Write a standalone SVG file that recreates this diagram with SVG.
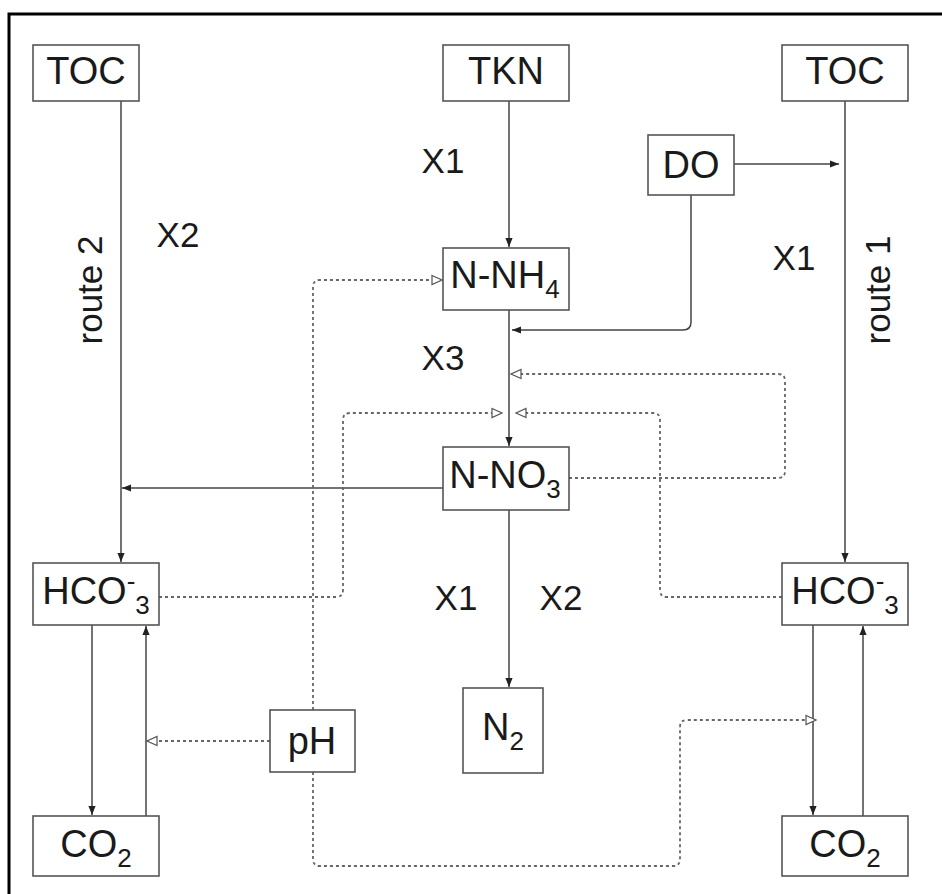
<svg xmlns="http://www.w3.org/2000/svg" width="942" height="894" viewBox="0 0 942 894">
<style>
.box{fill:#fff;stroke:#555;stroke-width:1.6}
.t{font-family:"Liberation Sans",Arial,sans-serif;font-size:38px;fill:#1a1a1a;text-anchor:middle}
.lb{font-size:35px}
.sub{font-size:26px}
.ln{fill:none;stroke:#444;stroke-width:1.5}
.dt{fill:none;stroke:#666;stroke-width:1.8;stroke-dasharray:3 3}
</style>
<defs>
<marker id="a" viewBox="0 0 10 10" refX="10" refY="5" markerWidth="9" markerHeight="9" markerUnits="userSpaceOnUse" orient="auto">
<path d="M0,1 L10,5 L0,9 z" fill="#222"/>
</marker>
<marker id="o" viewBox="0 0 12 12" refX="11" refY="6" markerWidth="12" markerHeight="12" markerUnits="userSpaceOnUse" orient="auto">
<path d="M1,1.5 L11,6 L1,10.5 z" fill="#fff" stroke="#555" stroke-width="1.2"/>
</marker>
</defs>
<rect width="942" height="894" fill="#fff"/>
<path d="M9,900 V14 H950" fill="none" stroke="#000" stroke-width="3"/>

<g id="connectors">
<path class="ln" d="M121,101 V562" marker-end="url(#a)"/>
<path class="ln" d="M509,101 V247" marker-end="url(#a)"/>
<path class="ln" d="M845,101 V562" marker-end="url(#a)"/>
<path class="ln" d="M734,164 H839" marker-end="url(#a)"/>
<path class="ln" d="M691,195 V322 Q691,330 683,330 H512" marker-end="url(#a)"/>
<path class="ln" d="M509,310 V446" marker-end="url(#a)"/>
<path class="ln" d="M443,488 H122" marker-end="url(#a)"/>
<path class="ln" d="M509,510 V687" marker-end="url(#a)"/>
<path class="ln" d="M92,625 V815" marker-end="url(#a)"/>
<path class="ln" d="M146,816 V626" marker-end="url(#a)"/>
<path class="ln" d="M813,625 V815" marker-end="url(#a)"/>
<path class="ln" d="M863,816 V626" marker-end="url(#a)"/>

<path class="dt" d="M313,710 V287 Q313,280 320,280 H442" marker-end="url(#o)"/>
<path class="dt" d="M313,772 V859 Q313,866 320,866 H673 Q680,866 680,859 V727 Q680,720 687,720 H816" marker-end="url(#o)"/>
<path class="dt" d="M270,741 H147" marker-end="url(#o)"/>
<path class="dt" d="M159,597 H336 Q343,597 343,590 V420 Q343,413 350,413 H502" marker-end="url(#o)"/>
<path class="dt" d="M782,597 H667 Q660,597 660,590 V420 Q660,413 653,413 H516" marker-end="url(#o)"/>
<path class="dt" d="M569,478 H778 Q785,478 785,471 V381 Q785,374 778,374 H511" marker-end="url(#o)"/>
</g>

<g id="TOC_left"><rect class="box" x="33" y="45" width="106" height="56"/><text class="t" x="86" y="84">TOC</text></g>
<g id="TKN"><rect class="box" x="443" y="45" width="126" height="56"/><text class="t" x="506" y="84">TKN</text></g>
<g id="TOC_right"><rect class="box" x="782" y="45" width="126" height="56"/><text class="t" x="845" y="84">TOC</text></g>
<g id="DO"><rect class="box" x="648" y="135" width="86" height="60"/><text class="t" x="691" y="178">DO</text></g>
<g id="N_NH4"><rect class="box" x="443" y="248" width="126" height="62"/><text class="t" x="505" y="288">N-NH<tspan class="sub" dy="10">4</tspan></text></g>
<g id="N_NO3"><rect class="box" x="443" y="447" width="126" height="63"/><text class="t" x="505" y="488">N-NO<tspan class="sub" dy="10">3</tspan></text></g>
<g id="HCO3_left"><rect class="box" x="33" y="563" width="126" height="62"/><text class="t" x="96" y="604">HCO<tspan class="sub" dy="-14">-</tspan><tspan class="sub" dy="24">3</tspan></text></g>
<g id="HCO3_right"><rect class="box" x="782" y="563" width="126" height="62"/><text class="t" x="845" y="604">HCO<tspan class="sub" dy="-14">-</tspan><tspan class="sub" dy="24">3</tspan></text></g>
<g id="pH"><rect class="box" x="270" y="710" width="85" height="62"/><text class="t" x="312" y="754">pH</text></g>
<g id="N2"><rect class="box" x="463" y="688" width="80" height="85"/><text class="t" x="503" y="740">N<tspan class="sub" dy="10">2</tspan></text></g>
<g id="CO2_left"><rect class="box" x="33" y="816" width="126" height="60"/><text class="t" x="96" y="857">CO<tspan class="sub" dy="10">2</tspan></text></g>
<g id="CO2_right"><rect class="box" x="782" y="816" width="126" height="60"/><text class="t" x="845" y="857">CO<tspan class="sub" dy="10">2</tspan></text></g>

<g id="labels">
<text class="t lb" x="178" y="247">X2</text>
<text class="t lb" transform="rotate(-90 90 290)" x="90" y="302">route 2</text>
<text class="t lb" x="443" y="173">X1</text>
<text class="t lb" x="443" y="370">X3</text>
<text class="t lb" x="794" y="270">X1</text>
<text class="t lb" transform="rotate(-90 878 290)" x="878" y="302">route 1</text>
<text class="t lb" x="456" y="610">X1</text>
<text class="t lb" x="561" y="610">X2</text>
</g>
</svg>
